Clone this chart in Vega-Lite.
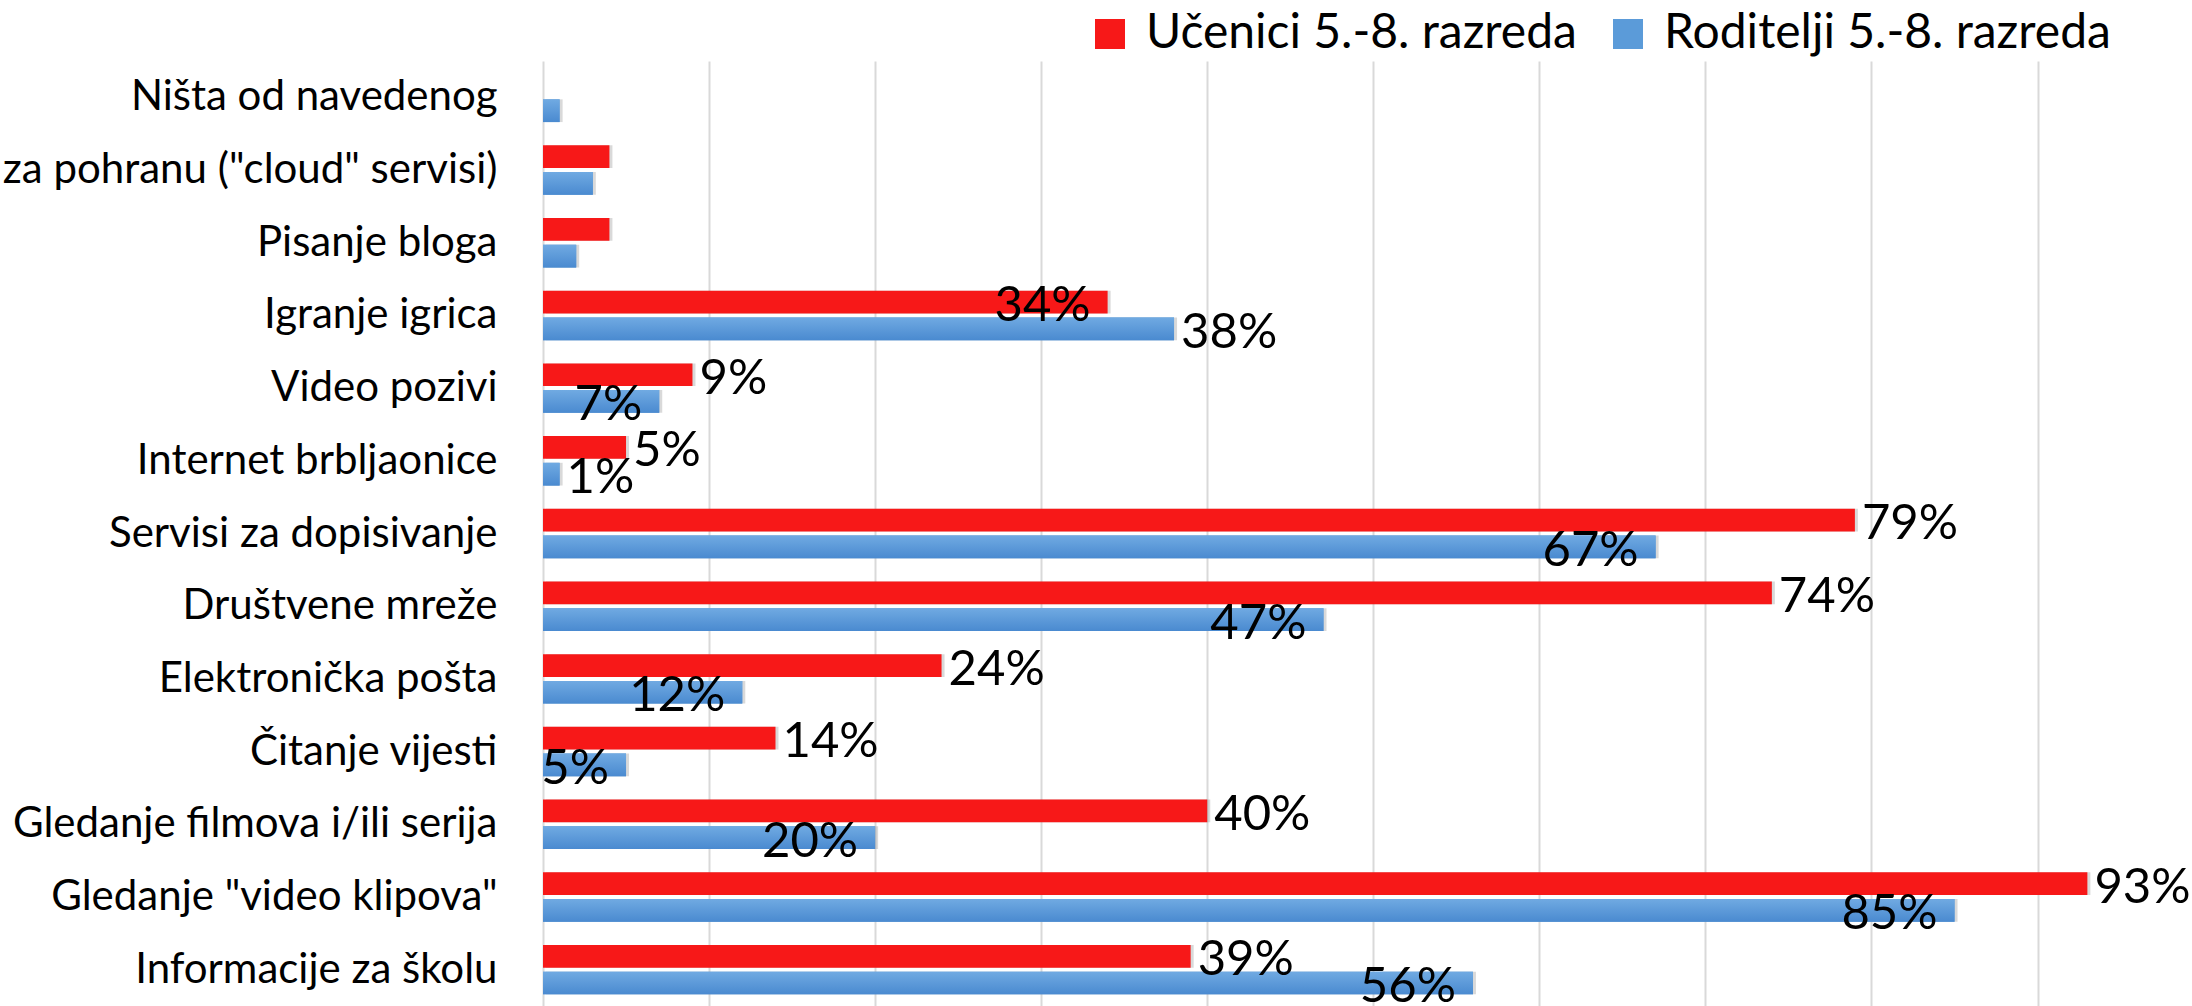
{
  "$schema": "https://vega.github.io/schema/vega-lite/v6.json",
  "autosize": {"type": "none"},
  "padding": {"left": 543, "top": 61, "right": 0, "bottom": 0},
  "width": 1649,
  "height": 945,
  "background": "white",
  "config": {"font": "Lato", "view": {"stroke": null}},
  "data": {"values": [
    {"cat": "Ništa od navedenog", "series": "Roditelji 5.-8. razreda", "value": 0.01},
    {"cat": "Usluge za pohranu (\"cloud\" servisi)", "series": "Učenici 5.-8. razreda", "value": 0.04},
    {"cat": "Usluge za pohranu (\"cloud\" servisi)", "series": "Roditelji 5.-8. razreda", "value": 0.03},
    {"cat": "Pisanje bloga", "series": "Učenici 5.-8. razreda", "value": 0.04},
    {"cat": "Pisanje bloga", "series": "Roditelji 5.-8. razreda", "value": 0.02},
    {"cat": "Igranje igrica", "series": "Učenici 5.-8. razreda", "value": 0.34},
    {"cat": "Igranje igrica", "series": "Roditelji 5.-8. razreda", "value": 0.38},
    {"cat": "Video pozivi", "series": "Učenici 5.-8. razreda", "value": 0.09},
    {"cat": "Video pozivi", "series": "Roditelji 5.-8. razreda", "value": 0.07},
    {"cat": "Internet brbljaonice", "series": "Učenici 5.-8. razreda", "value": 0.05},
    {"cat": "Internet brbljaonice", "series": "Roditelji 5.-8. razreda", "value": 0.01},
    {"cat": "Servisi za dopisivanje", "series": "Učenici 5.-8. razreda", "value": 0.79},
    {"cat": "Servisi za dopisivanje", "series": "Roditelji 5.-8. razreda", "value": 0.67},
    {"cat": "Društvene mreže", "series": "Učenici 5.-8. razreda", "value": 0.74},
    {"cat": "Društvene mreže", "series": "Roditelji 5.-8. razreda", "value": 0.47},
    {"cat": "Elektronička pošta", "series": "Učenici 5.-8. razreda", "value": 0.24},
    {"cat": "Elektronička pošta", "series": "Roditelji 5.-8. razreda", "value": 0.12},
    {"cat": "Čitanje vijesti", "series": "Učenici 5.-8. razreda", "value": 0.14},
    {"cat": "Čitanje vijesti", "series": "Roditelji 5.-8. razreda", "value": 0.05},
    {"cat": "Gledanje filmova i/ili serija", "series": "Učenici 5.-8. razreda", "value": 0.40},
    {"cat": "Gledanje filmova i/ili serija", "series": "Roditelji 5.-8. razreda", "value": 0.20},
    {"cat": "Gledanje \"video klipova\"", "series": "Učenici 5.-8. razreda", "value": 0.93},
    {"cat": "Gledanje \"video klipova\"", "series": "Roditelji 5.-8. razreda", "value": 0.85},
    {"cat": "Informacije za školu", "series": "Učenici 5.-8. razreda", "value": 0.39},
    {"cat": "Informacije za školu", "series": "Roditelji 5.-8. razreda", "value": 0.56}
  ]},
  "encoding": {
    "y": {
      "field": "cat", "type": "nominal", "sort": null,
      "scale": {"paddingInner": 0.32, "paddingOuter": 0.16},
      "axis": {"title": null, "ticks": false, "domain": false, "labelFontSize": 42, "labelColor": "#000000", "labelPadding": 46, "labelLimit": 2000, "labelFont": "Lato"}
    },
    "yOffset": {
      "field": "series", "type": "nominal",
      "sort": ["Učenici 5.-8. razreda", "Roditelji 5.-8. razreda"],
      "scale": {"paddingInner": 0.15}
    },
    "x": {
      "field": "value", "type": "quantitative",
      "scale": {"domain": [0, 0.993], "nice": false, "zero": true},
      "axis": {"title": null, "labels": false, "ticks": false, "domain": false, "grid": true, "gridColor": "#d9d9d9", "gridWidth": 2, "values": [0, 0.1, 0.2, 0.3, 0.4, 0.5, 0.6, 0.7, 0.8, 0.9]}
    }
  },
  "layer": [
    {
      "mark": {"type": "bar", "color": "#808080", "opacity": 0.3, "xOffset": 3, "yOffset": 4}
    },
    {
      "mark": {"type": "bar"},
      "encoding": {
        "color": {
          "field": "series", "type": "nominal",
          "scale": {
            "domain": ["Učenici 5.-8. razreda", "Roditelji 5.-8. razreda"],
            "range": ["#f71818", "#5b9bd9"]
          },
          "legend": {
            "title": null, "orient": "none", "legendX": 543, "legendY": -51, "direction": "horizontal",
            "symbolType": "square", "symbolSize": 900, "symbolStrokeWidth": 0, "symbolOpacity": 1,
            "labelFontSize": 48, "labelFont": "Lato", "labelColor": "#000000", "labelOffset": 12, "labelLimit": 1000, "columnPadding": 27
          }
        }
      }
    },
    {
      "transform": [{"filter": "datum.series == 'Roditelji 5.-8. razreda'"}],
      "mark": {"type": "bar", "color": {"gradient": "linear", "x1": 0, "y1": 0, "x2": 0, "y2": 1, "stops": [{"offset": 0, "color": "#70aae2"}, {"offset": 1, "color": "#4a8ad0"}]}}
    },
    {
      "transform": [
        {"filter": "datum.cat != 'Ništa od navedenog' && datum.cat != 'Pisanje bloga' && datum.cat != 'Usluge za pohranu (\"cloud\" servisi)'"},
        {"filter": "(datum.series == 'Učenici 5.-8. razreda' && datum.cat != 'Igranje igrica') || (datum.series == 'Roditelji 5.-8. razreda' && (datum.cat == 'Igranje igrica' || datum.cat == 'Internet brbljaonice'))"}
      ],
      "mark": {"type": "text", "align": "left", "baseline": "middle", "dx": 7, "dy": 4, "fontSize": 49, "color": "#000000"},
      "encoding": {"text": {"field": "value", "type": "quantitative", "format": ".0%"}}
    },
    {
      "transform": [
        {"filter": "datum.cat != 'Ništa od navedenog' && datum.cat != 'Pisanje bloga' && datum.cat != 'Usluge za pohranu (\"cloud\" servisi)'"},
        {"filter": "!((datum.series == 'Učenici 5.-8. razreda' && datum.cat != 'Igranje igrica') || (datum.series == 'Roditelji 5.-8. razreda' && (datum.cat == 'Igranje igrica' || datum.cat == 'Internet brbljaonice')))"}
      ],
      "mark": {"type": "text", "align": "right", "baseline": "middle", "dx": -17, "dy": 4, "fontSize": 49, "color": "#000000"},
      "encoding": {"text": {"field": "value", "type": "quantitative", "format": ".0%"}}
    }
  ]
}
